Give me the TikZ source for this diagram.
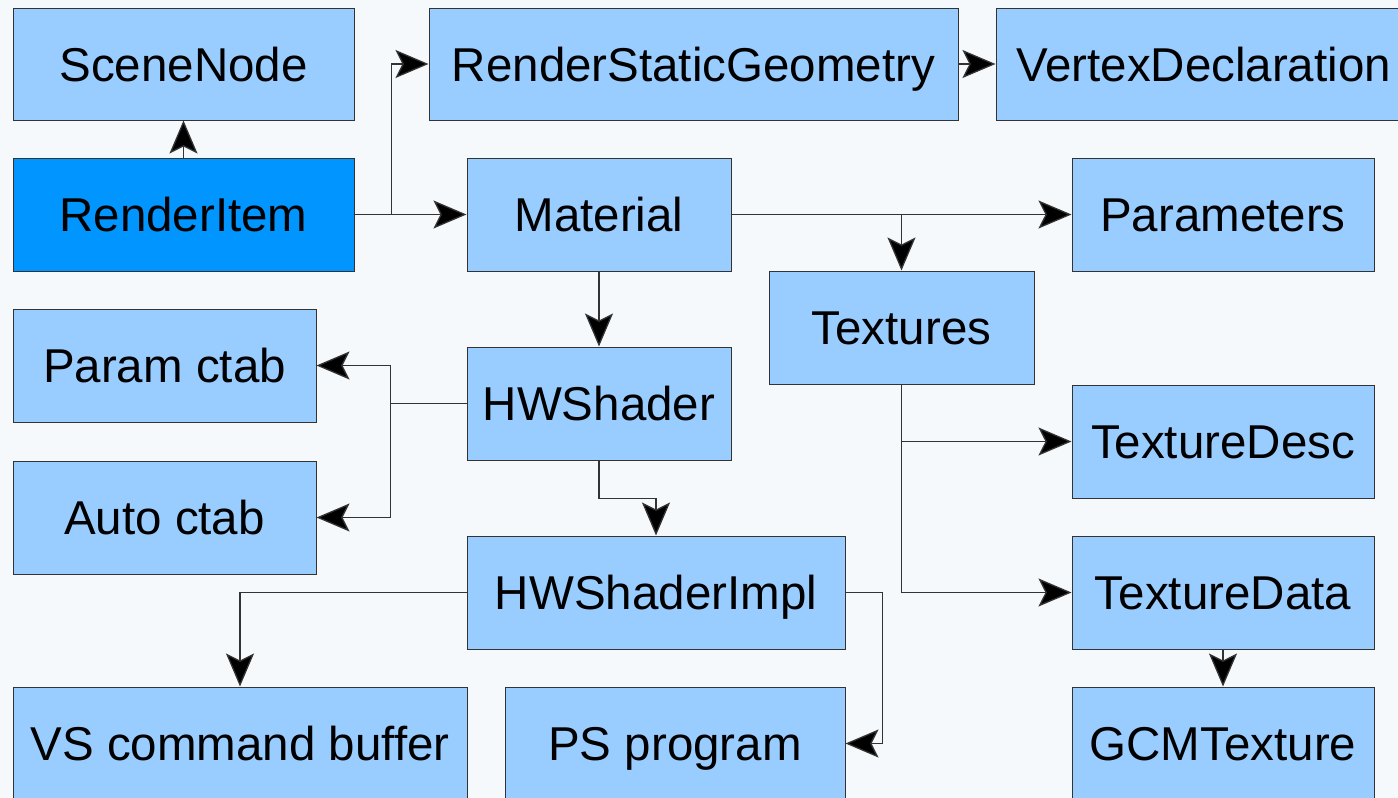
\documentclass[tikz,border=0pt]{standalone}
\usepackage{fontspec}
\setmainfont{Liberation Sans}
\usetikzlibrary{arrows.meta}
\definecolor{boxfill}{HTML}{99CCFF}
\definecolor{boxdark}{HTML}{0095FF}
\definecolor{edge}{HTML}{333333}
\definecolor{bg}{HTML}{F6F9FB}
\begin{document}
\begin{tikzpicture}[x=1pt,y=-1pt,
  box/.style={draw=edge, line width=1pt, fill=boxfill, rectangle, inner sep=0pt,
    minimum height=113pt, font=\fontsize{47.5}{56}\selectfont, text=black,
    text height=34pt, text depth=0pt},
  arr/.style={draw=edge, line width=1.3pt,
    -{Stealth[length=33pt, width=28pt, inset=7pt, fill=black]}}]
\useasboundingbox (0,0) rectangle (1398,798);
\clip (0,0) rectangle (1398,798);
\fill[bg] (0,0) rectangle (1398,798);
% nodes
\node[box, minimum width=341pt, minimum height=112pt] (sn) at (183.5,64) {SceneNode};
\node[box, minimum width=529pt, minimum height=112pt] (rsg) at (693.5,64) {RenderStaticGeometry};
\node[box, minimum width=402pt, minimum height=112pt, text width=388pt, align=right] (vd) at (1197,64) {VertexDeclaration};
\node[box, fill=boxdark, minimum width=341pt] (ri) at (183.5,214.5) {RenderItem};
\node[box, minimum width=264pt] (mat) at (599,214.5) {Material};
\node[box, minimum width=302pt] (par) at (1223,214.5) {Parameters};
\node[box, minimum width=265pt] (tex) at (901.5,327.5) {Textures};
\node[box, minimum width=303pt] (pc) at (164.5,365.5) {Param ctab};
\node[box, minimum width=264pt] (hw) at (599,403.5) {HWShader};
\node[box, minimum width=302pt] (td) at (1223,441.5) {TextureDesc};
\node[box, minimum width=303pt] (ac) at (164.5,517.5) {Auto ctab};
\node[box, minimum width=378pt] (hwi) at (656,592.5) {HWShaderImpl};
\node[box, minimum width=302pt] (tdata) at (1223,592.5) {TextureData};
\node[box, minimum width=454pt] (vs) at (240,743.5) {VS command buffer};
\node[box, minimum width=340pt] (ps) at (675,743.5) {PS program};
\node[box, minimum width=302pt] (gcm) at (1223,743.5) {GCMTexture};
% connectors
\draw[arr] (ri.north) -- (sn.south);
\draw[arr] (ri.east) -- ++(37,0) |- (rsg.west);
\draw[arr] (ri.east) -- (mat.west);
\draw[arr] (rsg.east) -- (vd.west);
\draw[arr] (mat.east) -- (par.west);
\draw[arr] (mat.east) -| (tex.north);
\draw[arr] (mat.south) -- (hw.north);
\draw[arr] (hw.west) -- ++(-76,0) |- (pc.east);
\draw[arr] (hw.west) -- ++(-76,0) |- (ac.east);
\draw[arr] (hw.south) -- ++(0,38) -| (hwi.north);
\draw[arr] (tex.south) |- (td.west);
\draw[arr] (tex.south) |- (tdata.west);
\draw[arr] (hwi.west) -| (vs.north);
\draw[arr] (hwi.east) -- ++(37,0) |- (ps.east);
\draw[arr] (tdata.south) -- (gcm.north);
\end{tikzpicture}
\end{document}
